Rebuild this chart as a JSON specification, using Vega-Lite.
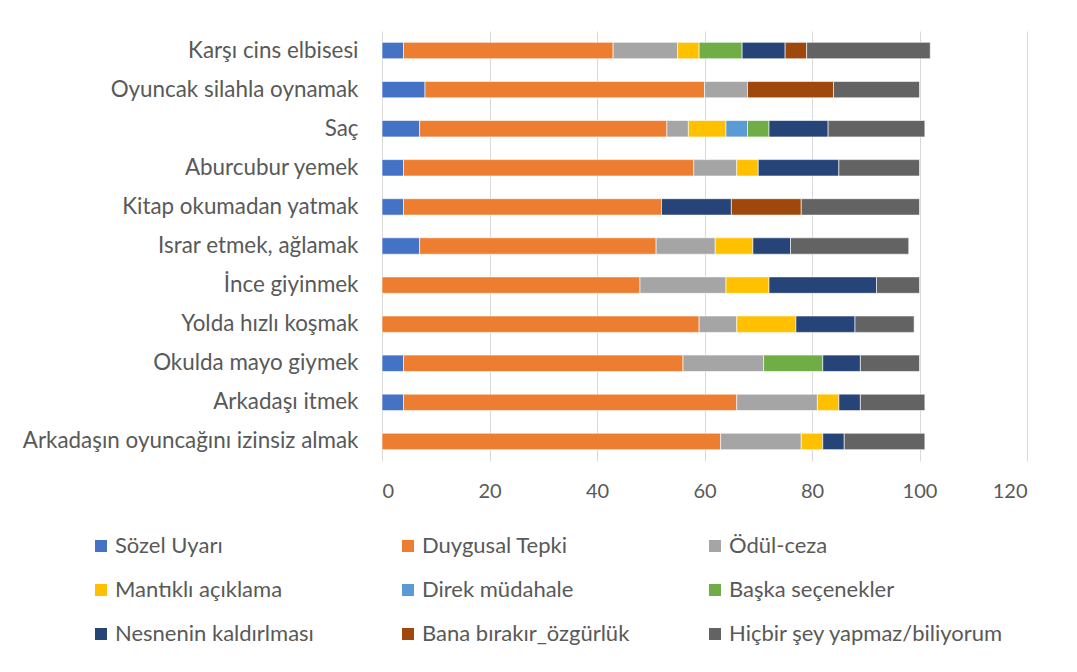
{
  "$schema": "https://vega.github.io/schema/vega-lite/v6.json",
  "autosize": {"type": "none"},
  "padding": {"left": 382, "top": 31, "right": 50, "bottom": 211},
  "width": 645,
  "height": 430,
  "background": "#ffffff",
  "config": {
    "font": "Lato",
    "view": {"stroke": null},
    "axis": {"labelFont": "Lato", "labelColor": "#595959"},
    "legend": {"labelFont": "Lato"}
  },
  "data": {
    "values": [
      {"c": "Karşı cins elbisesi ", "s": "Sözel Uyarı", "k": 1, "v": 4},
      {"c": "Karşı cins elbisesi ", "s": "Duygusal Tepki", "k": 2, "v": 39},
      {"c": "Karşı cins elbisesi ", "s": "Ödül-ceza", "k": 3, "v": 12},
      {"c": "Karşı cins elbisesi ", "s": "Mantıklı açıklama", "k": 4, "v": 4},
      {"c": "Karşı cins elbisesi ", "s": "Başka seçenekler", "k": 6, "v": 8},
      {"c": "Karşı cins elbisesi ", "s": "Nesnenin kaldırlması", "k": 7, "v": 8},
      {"c": "Karşı cins elbisesi ", "s": "Bana bırakır_özgürlük", "k": 8, "v": 4},
      {"c": "Karşı cins elbisesi ", "s": "Hiçbir şey yapmaz/biliyorum", "k": 9, "v": 23},

      {"c": "Oyuncak silahla oynamak", "s": "Sözel Uyarı", "k": 1, "v": 8},
      {"c": "Oyuncak silahla oynamak", "s": "Duygusal Tepki", "k": 2, "v": 52},
      {"c": "Oyuncak silahla oynamak", "s": "Ödül-ceza", "k": 3, "v": 8},
      {"c": "Oyuncak silahla oynamak", "s": "Bana bırakır_özgürlük", "k": 8, "v": 16},
      {"c": "Oyuncak silahla oynamak", "s": "Hiçbir şey yapmaz/biliyorum", "k": 9, "v": 16},

      {"c": "Saç", "s": "Sözel Uyarı", "k": 1, "v": 7},
      {"c": "Saç", "s": "Duygusal Tepki", "k": 2, "v": 46},
      {"c": "Saç", "s": "Ödül-ceza", "k": 3, "v": 4},
      {"c": "Saç", "s": "Mantıklı açıklama", "k": 4, "v": 7},
      {"c": "Saç", "s": "Direk müdahale", "k": 5, "v": 4},
      {"c": "Saç", "s": "Başka seçenekler", "k": 6, "v": 4},
      {"c": "Saç", "s": "Nesnenin kaldırlması", "k": 7, "v": 11},
      {"c": "Saç", "s": "Hiçbir şey yapmaz/biliyorum", "k": 9, "v": 18},

      {"c": "Aburcubur yemek", "s": "Sözel Uyarı", "k": 1, "v": 4},
      {"c": "Aburcubur yemek", "s": "Duygusal Tepki", "k": 2, "v": 54},
      {"c": "Aburcubur yemek", "s": "Ödül-ceza", "k": 3, "v": 8},
      {"c": "Aburcubur yemek", "s": "Mantıklı açıklama", "k": 4, "v": 4},
      {"c": "Aburcubur yemek", "s": "Nesnenin kaldırlması", "k": 7, "v": 15},
      {"c": "Aburcubur yemek", "s": "Hiçbir şey yapmaz/biliyorum", "k": 9, "v": 15},

      {"c": "Kitap okumadan yatmak", "s": "Sözel Uyarı", "k": 1, "v": 4},
      {"c": "Kitap okumadan yatmak", "s": "Duygusal Tepki", "k": 2, "v": 48},
      {"c": "Kitap okumadan yatmak", "s": "Nesnenin kaldırlması", "k": 7, "v": 13},
      {"c": "Kitap okumadan yatmak", "s": "Bana bırakır_özgürlük", "k": 8, "v": 13},
      {"c": "Kitap okumadan yatmak", "s": "Hiçbir şey yapmaz/biliyorum", "k": 9, "v": 22},

      {"c": "Israr etmek, ağlamak", "s": "Sözel Uyarı", "k": 1, "v": 7},
      {"c": "Israr etmek, ağlamak", "s": "Duygusal Tepki", "k": 2, "v": 44},
      {"c": "Israr etmek, ağlamak", "s": "Ödül-ceza", "k": 3, "v": 11},
      {"c": "Israr etmek, ağlamak", "s": "Mantıklı açıklama", "k": 4, "v": 7},
      {"c": "Israr etmek, ağlamak", "s": "Nesnenin kaldırlması", "k": 7, "v": 7},
      {"c": "Israr etmek, ağlamak", "s": "Hiçbir şey yapmaz/biliyorum", "k": 9, "v": 22},

      {"c": "İnce giyinmek ", "s": "Duygusal Tepki", "k": 2, "v": 48},
      {"c": "İnce giyinmek ", "s": "Ödül-ceza", "k": 3, "v": 16},
      {"c": "İnce giyinmek ", "s": "Mantıklı açıklama", "k": 4, "v": 8},
      {"c": "İnce giyinmek ", "s": "Nesnenin kaldırlması", "k": 7, "v": 20},
      {"c": "İnce giyinmek ", "s": "Hiçbir şey yapmaz/biliyorum", "k": 9, "v": 8},

      {"c": "Yolda hızlı koşmak", "s": "Duygusal Tepki", "k": 2, "v": 59},
      {"c": "Yolda hızlı koşmak", "s": "Ödül-ceza", "k": 3, "v": 7},
      {"c": "Yolda hızlı koşmak", "s": "Mantıklı açıklama", "k": 4, "v": 11},
      {"c": "Yolda hızlı koşmak", "s": "Nesnenin kaldırlması", "k": 7, "v": 11},
      {"c": "Yolda hızlı koşmak", "s": "Hiçbir şey yapmaz/biliyorum", "k": 9, "v": 11},

      {"c": "Okulda mayo giymek", "s": "Sözel Uyarı", "k": 1, "v": 4},
      {"c": "Okulda mayo giymek", "s": "Duygusal Tepki", "k": 2, "v": 52},
      {"c": "Okulda mayo giymek", "s": "Ödül-ceza", "k": 3, "v": 15},
      {"c": "Okulda mayo giymek", "s": "Başka seçenekler", "k": 6, "v": 11},
      {"c": "Okulda mayo giymek", "s": "Nesnenin kaldırlması", "k": 7, "v": 7},
      {"c": "Okulda mayo giymek", "s": "Hiçbir şey yapmaz/biliyorum", "k": 9, "v": 11},

      {"c": "Arkadaşı itmek", "s": "Sözel Uyarı", "k": 1, "v": 4},
      {"c": "Arkadaşı itmek", "s": "Duygusal Tepki", "k": 2, "v": 62},
      {"c": "Arkadaşı itmek", "s": "Ödül-ceza", "k": 3, "v": 15},
      {"c": "Arkadaşı itmek", "s": "Mantıklı açıklama", "k": 4, "v": 4},
      {"c": "Arkadaşı itmek", "s": "Nesnenin kaldırlması", "k": 7, "v": 4},
      {"c": "Arkadaşı itmek", "s": "Hiçbir şey yapmaz/biliyorum", "k": 9, "v": 12},

      {"c": "Arkadaşın oyuncağını izinsiz almak", "s": "Duygusal Tepki", "k": 2, "v": 63},
      {"c": "Arkadaşın oyuncağını izinsiz almak", "s": "Ödül-ceza", "k": 3, "v": 15},
      {"c": "Arkadaşın oyuncağını izinsiz almak", "s": "Mantıklı açıklama", "k": 4, "v": 4},
      {"c": "Arkadaşın oyuncağını izinsiz almak", "s": "Nesnenin kaldırlması", "k": 7, "v": 4},
      {"c": "Arkadaşın oyuncağını izinsiz almak", "s": "Hiçbir şey yapmaz/biliyorum", "k": 9, "v": 15}
    ]
  },
  "mark": {"type": "bar", "stroke": "#ffffff", "strokeWidth": 0.6},
  "encoding": {
    "y": {
      "field": "c",
      "type": "nominal",
      "sort": null,
      "scale": {"paddingInner": 0.58, "paddingOuter": 0.29},
      "axis": {
        "title": null,
        "ticks": false,
        "domain": false,
        "labelFontSize": 22.4,
        "labelPadding": 24,
        "labelLimit": 400,
        "labelColor": "#595959"
      }
    },
    "x": {
      "field": "v",
      "type": "quantitative",
      "stack": "zero",
      "scale": {"domain": [0, 120], "nice": false},
      "axis": {
        "title": null,
        "values": [0, 20, 40, 60, 80, 100, 120],
        "ticks": false,
        "domain": false,
        "grid": true,
        "gridColor": "#d9d9d9",
        "gridWidth": 1,
        "labelFontSize": 20,
        "labelPadding": 20,
        "labelColor": "#595959"
      }
    },
    "order": {"field": "k", "type": "quantitative"},
    "color": {
      "field": "s",
      "type": "nominal",
      "scale": {
        "domain": ["Sözel Uyarı", "Mantıklı açıklama", "Nesnenin kaldırlması", "Duygusal Tepki", "Direk müdahale", "Bana bırakır_özgürlük", "Ödül-ceza", "Başka seçenekler", "Hiçbir şey yapmaz/biliyorum"],
        "range": ["#4472C4", "#FFC000", "#264478", "#ED7D31", "#5B9BD5", "#9E480E", "#A5A5A5", "#70AD47", "#636363"]
      },
      "legend": {
        "title": null,
        "orient": "none",
        "legendX": -292,
        "legendY": 504,
        "columns": 3,
        "gridAlign": "all",
        "columnPadding": 7,
        "rowPadding": 22,
        "symbolType": "square",
        "symbolSize": 144,
        "symbolStrokeWidth": 0,
        "labelFontSize": 22,
        "labelColor": "#595959",
        "labelOffset": 3,
        "labelLimit": 400
      }
    }
  }
}
